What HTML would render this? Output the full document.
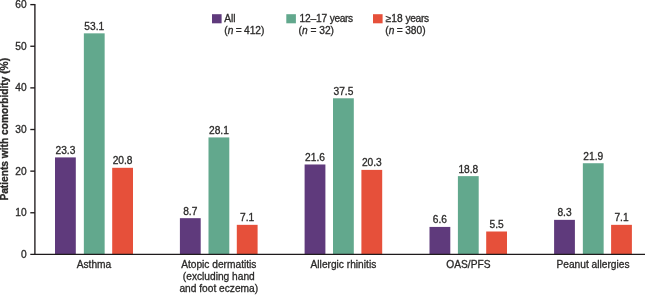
<!DOCTYPE html>
<html><head><meta charset="utf-8"><title>Patients with comorbidity</title>
<style>html,body{margin:0;padding:0;background:#fff}svg{display:block}text{font-family:"Liberation Sans",Arial,Helvetica,sans-serif;font-size:10.2px;fill:#2b2a29;stroke:#2b2a29;stroke-width:0.3px}</style></head><body>
<svg width="645" height="295" viewBox="0 0 645 295">
<rect width="645" height="295" fill="#fff"/>
<rect x="55.00" y="157.40" width="20.80" height="97.00" fill="#5f3a7c"/>
<text x="65.40" y="153.80" text-anchor="middle">23.3</text>
<rect x="83.85" y="33.34" width="20.80" height="221.06" fill="#62a88d"/>
<text x="94.25" y="29.74" text-anchor="middle">53.1</text>
<rect x="112.20" y="167.81" width="20.80" height="86.59" fill="#e6503a"/>
<text x="122.60" y="164.21" text-anchor="middle">20.8</text>
<rect x="179.90" y="218.18" width="20.80" height="36.22" fill="#5f3a7c"/>
<text x="190.30" y="214.58" text-anchor="middle">8.7</text>
<rect x="208.50" y="137.42" width="20.80" height="116.98" fill="#62a88d"/>
<text x="218.90" y="133.82" text-anchor="middle">28.1</text>
<rect x="236.80" y="224.84" width="20.80" height="29.56" fill="#e6503a"/>
<text x="247.20" y="221.24" text-anchor="middle">7.1</text>
<rect x="304.60" y="164.48" width="20.80" height="89.92" fill="#5f3a7c"/>
<text x="315.00" y="160.88" text-anchor="middle">21.6</text>
<rect x="333.00" y="98.29" width="20.80" height="156.11" fill="#62a88d"/>
<text x="343.40" y="94.69" text-anchor="middle">37.5</text>
<rect x="361.40" y="169.89" width="20.80" height="84.51" fill="#e6503a"/>
<text x="371.80" y="166.29" text-anchor="middle">20.3</text>
<rect x="429.50" y="226.92" width="20.80" height="27.48" fill="#5f3a7c"/>
<text x="439.90" y="223.32" text-anchor="middle">6.6</text>
<rect x="457.90" y="176.14" width="20.80" height="78.26" fill="#62a88d"/>
<text x="468.30" y="172.54" text-anchor="middle">18.8</text>
<rect x="486.20" y="231.50" width="20.80" height="22.90" fill="#e6503a"/>
<text x="496.60" y="227.90" text-anchor="middle">5.5</text>
<rect x="554.10" y="219.85" width="20.80" height="34.55" fill="#5f3a7c"/>
<text x="564.50" y="216.25" text-anchor="middle">8.3</text>
<rect x="582.85" y="163.23" width="20.80" height="91.17" fill="#62a88d"/>
<text x="593.25" y="159.63" text-anchor="middle">21.9</text>
<rect x="611.10" y="224.84" width="20.80" height="29.56" fill="#e6503a"/>
<text x="621.50" y="221.24" text-anchor="middle">7.1</text>
<g stroke="#1f1b1c" stroke-width="1.35" fill="none">
<path d="M34.90 3.90 V255.10"/>
<path d="M30.30 254.40 H645"/>
<path d="M30.3 212.77 H34.90"/>
<path d="M30.3 171.14 H34.90"/>
<path d="M30.3 129.51 H34.90"/>
<path d="M30.3 87.88 H34.90"/>
<path d="M30.3 46.25 H34.90"/>
<path d="M30.3 4.62 H34.90"/>
</g>
<text x="26.6" y="257.80" text-anchor="end">0</text>
<text x="26.6" y="216.17" text-anchor="end">10</text>
<text x="26.6" y="174.54" text-anchor="end">20</text>
<text x="26.6" y="132.91" text-anchor="end">30</text>
<text x="26.6" y="91.28" text-anchor="end">40</text>
<text x="26.6" y="49.65" text-anchor="end">50</text>
<text x="26.6" y="8.02" text-anchor="end">60</text>
<text transform="translate(8.0 129.3) rotate(-90)" text-anchor="middle" font-weight="bold">Patients with comorbidity (%)</text>
<text x="94.00" y="267.5" text-anchor="middle">Asthma</text>
<text x="218.80" y="267.5" text-anchor="middle">Atopic dermatitis</text>
<text x="343.40" y="267.5" text-anchor="middle">Allergic rhinitis</text>
<text x="468.40" y="267.5" text-anchor="middle">OAS/PFS</text>
<text x="593.00" y="267.5" text-anchor="middle">Peanut allergies</text>
<text x="218.8" y="279.7" text-anchor="middle">(excluding hand</text>
<text x="218.8" y="291.9" text-anchor="middle">and foot eczema)</text>
<rect x="212.00" y="14.2" width="9.6" height="9.1" fill="#5f3a7c"/>
<text x="224.30" y="21.5">All</text>
<text x="224.30" y="33.7" word-spacing="-0.5">(<tspan font-style="italic">n</tspan> = 412)</text>
<rect x="286.30" y="14.2" width="9.6" height="9.1" fill="#62a88d"/>
<text x="299.40" y="21.5"><tspan letter-spacing="-0.12">12–17 </tspan><tspan letter-spacing="-0.4">years</tspan></text>
<text x="298.60" y="33.7" word-spacing="0">(<tspan font-style="italic">n</tspan> = 32)</text>
<rect x="373.00" y="14.2" width="9.6" height="9.1" fill="#e6503a"/>
<text x="385.70" y="21.5">≥18 <tspan letter-spacing="-0.3">years</tspan></text>
<text x="385.30" y="33.7" word-spacing="-0.4">(<tspan font-style="italic">n</tspan> = 380)</text>
</svg></body></html>
